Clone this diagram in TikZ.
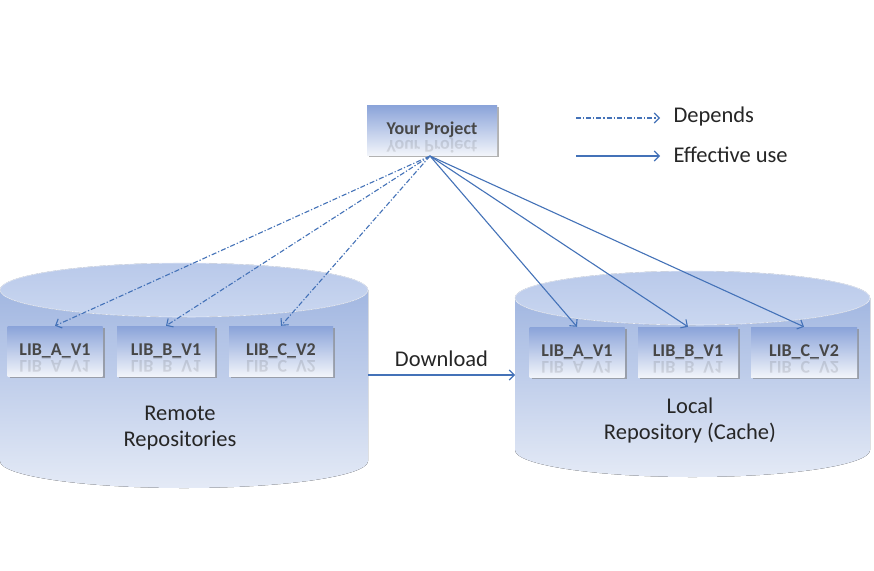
\documentclass[tikz,border=0pt]{standalone}
\usepackage{fontspec}
\setmainfont{Carlito}
\usetikzlibrary{arrows.meta,shadows}
\definecolor{lineblue}{HTML}{4472B8}
\definecolor{txtgray}{HTML}{262626}
\definecolor{bodytop}{HTML}{A2B7E1}
\definecolor{bodybot}{HTML}{E4EAF6}
\definecolor{lidtop}{HTML}{B9C9EA}
\definecolor{lidbot}{HTML}{CAD7F0}
\definecolor{boxtop}{HTML}{8AA3D9}
\definecolor{boxbot}{HTML}{F1F4FA}
\tikzset{
  libbox/.style={minimum width=96pt, minimum height=50pt, top color=boxtop, bottom color=boxbot,
    drop shadow={shadow xshift=2pt, shadow yshift=-2pt, fill=black!50, opacity=0.6},
    font=\fontsize{18}{20}\selectfont\bfseries, text=txtgray!85!white, inner sep=0pt},
  refl/.style={font=\fontsize{18}{20}\selectfont\bfseries, text=txtgray, opacity=0.13, inner sep=0pt, anchor=north},
  dep/.style={draw=lineblue, line width=1.1pt, dash pattern=on 5pt off 2pt on 1.2pt off 2pt,
    -{Straight Barb[length=5pt,width=10pt]}},
  use/.style={draw=lineblue, line width=1.1pt, -{Straight Barb[length=5pt,width=10pt]}},
  lbl/.style={font=\fontsize{22.5}{26}\selectfont, text=txtgray, align=center},
}
\newcommand{\mycyl}[5]{% x1 x2 ytop ybot ry
  \fill[top color=bodytop, bottom color=bodybot]
    (#1,#3) -- (#1,#4) arc[start angle=180, end angle=0, x radius={(#2-#1)/2}, y radius=#5]
    -- (#2,#3) -- cycle;
  \fill[top color=lidtop, bottom color=lidbot, draw=white!75!bodytop, line width=0.6pt]
    ({(#1+#2)/2},#3) ellipse[x radius={(#2-#1)/2}, y radius=#5];
}
\begin{document}
\begin{tikzpicture}[x=1pt,y=-1pt]
\useasboundingbox (0,0) rectangle (874,570);
\fill[white] (0,0) rectangle (874,570);

% cylinders
\mycyl{0}{368}{290}{461}{27}
\mycyl{515}{870}{298}{450}{27}
\coordinate (remR) at (368,375);
\coordinate (locL) at (515,375);

% project box
\node[libbox, minimum width=130pt, minimum height=50pt, font=\fontsize{18}{20}\selectfont\bfseries] (proj) at (432,130) {Your Project};
\node[refl, font=\fontsize{18}{20}\selectfont\bfseries] at (432,137) {\scalebox{1}[-1]{Your Project}};
\coordinate (src) at (430,156);

% remote libs
\node[libbox, minimum width=95pt] (ra) at (55,351) {LIB\_A\_V1};
\node[libbox, minimum width=98pt] (rb) at (166,351) {LIB\_B\_V1};
\node[libbox, minimum width=104pt] (rc) at (281,351) {LIB\_C\_V2};
% local libs
\node[libbox, minimum width=95pt] (la) at (577,352) {LIB\_A\_V1};
\node[libbox, minimum width=100pt] (lb) at (688,352) {LIB\_B\_V1};
\node[libbox, minimum width=106pt] (lc) at (804,352) {LIB\_C\_V2};

% reflections
\foreach \n/\t in {ra/LIB\_A\_V1, rb/LIB\_B\_V1, rc/LIB\_C\_V2, la/LIB\_A\_V1, lb/LIB\_B\_V1, lc/LIB\_C\_V2}{
  \node[refl] at ([yshift=-7pt]\n.center) {\scalebox{1}[-1]{\t}};
}

% labels
\node[lbl] (remlbl) at (180,428) {Remote\\Repositories};
\node[lbl] (loclbl) at (690,420) {Local\\Repository (Cache)};

% arrows
\foreach \b in {ra,rb,rc}{ \draw[dep] (src) -- (\b.north); }
\foreach \b in {la,lb,lc}{ \draw[use] (src) -- (\b.north); }
\draw[use] (remR) -- node[lbl, above=4pt] (dl) {Download} (locL);

% legend
\coordinate (l1a) at (576,118);
\coordinate (l1b) at (660,118);
\coordinate (l2a) at (576,156);
\coordinate (l2b) at (660,156);
\draw[dep] (l1a) -- (l1b);
\draw[use] (l2a) -- (l2b);
\node[lbl, anchor=west] (legdep) at (670,116) {Depends};
\node[lbl, anchor=west] (leguse) at (670,155) {Effective use};
\end{tikzpicture}
\end{document}
